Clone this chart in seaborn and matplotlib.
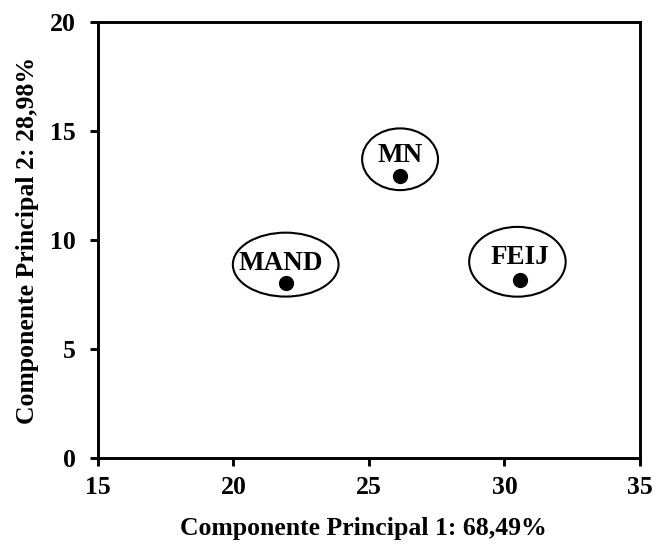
import numpy as np
import pandas as pd
import seaborn as sns
import matplotlib.pyplot as plt
from matplotlib.patches import Ellipse


# datos
tratamientos = ["MN", "MAND", "FEIJ"]
cp1 = [26.15, 21.95, 30.58]
cp2 = [12.95, 8.05, 8.15]

# posicion de las etiquetas y tamaño de las elipses (solo estetica)
label_dx = [0.0, -0.2, 0.0]
label_dy = [0.9, 0.85, 1.05]
ell_dx = [0.0, -0.02, -0.1]
ell_dy = [0.75, 0.82, 0.85]
ell_w = [2.8, 3.9, 3.56]
ell_h = [2.83, 2.93, 3.2]

df = pd.DataFrame({"trat": tratamientos, "cp1": cp1, "cp2": cp2})

sns.set_theme(style="white")
plt.rcParams["font.family"] = ["Liberation Serif", "DejaVu Serif"]
plt.rcParams["font.weight"] = "bold"
plt.rcParams["text.color"] = "black"
plt.rcParams["axes.labelcolor"] = "black"

fig = plt.figure(figsize=(6.57, 5.46), dpi=100)
ax = fig.add_axes([0.149, 0.161, 0.825, 0.799])

sns.scatterplot(data=df, x="cp1", y="cp2", color="black", s=120,
                edgecolor="black", linewidth=0, ax=ax, zorder=3)

for i, t in enumerate(tratamientos):
    ax.text(cp1[i] + label_dx[i], cp2[i] + label_dy[i], t, ha="center", va="center",
            fontsize=19.5, fontweight="bold", color="black", zorder=4)
    e = Ellipse((cp1[i] + ell_dx[i], cp2[i] + ell_dy[i]), ell_w[i], ell_h[i],
                fill=False, edgecolor="black", linewidth=1.5, zorder=2)
    ax.add_patch(e)

ax.set_xlim(15, 35)
ax.set_ylim(0, 20)
ax.set_xticks([15, 20, 25, 30, 35])
ax.set_yticks([0, 5, 10, 15, 20])
ax.set_xlabel("Componente Principal 1: 68,49%", fontsize=18.5, fontweight="bold",
              color="black", labelpad=9)
ax.set_ylabel("Componente Principal 2: 28,98%", fontsize=18.5, fontweight="bold",
              color="black", labelpad=8)
ax.xaxis.set_label_coords(0.49, -0.135)

for sp in ax.spines.values():
    sp.set_visible(True)
    sp.set_color("black")
    sp.set_linewidth(2.1)

ax.tick_params(axis="both", direction="out", length=6, width=2.1, colors="black",
               labelsize=18.5, bottom=True, left=True)
ax.tick_params(axis="x", pad=7)
ax.tick_params(axis="y", pad=10)
for lab in ax.get_xticklabels() + ax.get_yticklabels():
    lab.set_fontweight("bold")

fig.savefig("out.png", dpi=100)
